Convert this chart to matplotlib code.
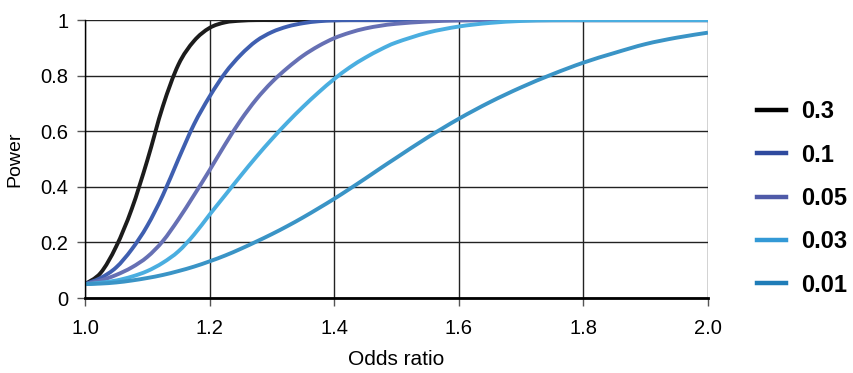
import numpy as np
import matplotlib
matplotlib.use("Agg")
import matplotlib.pyplot as plt
from matplotlib.path import Path
from matplotlib.patches import PathPatch
from matplotlib.lines import Line2D

plt.rcParams['font.family'] = ['Liberation Sans', 'DejaVu Sans']

odds = [1.0, 1.025, 1.05, 1.075, 1.1, 1.125, 1.15, 1.175, 1.2, 1.225, 1.25, 1.275,
        1.3, 1.325, 1.35, 1.375, 1.4, 1.425, 1.45, 1.475, 1.5, 1.55, 1.6, 1.65,
        1.7, 1.75, 1.8, 1.85, 1.9, 1.95, 2.0]

maf_03 = [0.05, 0.09, 0.185, 0.32, 0.495, 0.69, 0.84, 0.925, 0.972, 0.992, 0.998, 1.0,
          1.0, 1.0, 1.0, 1.0, 1.0, 1.0, 1.0, 1.0, 1.0, 1.0, 1.0, 1.0,
          1.0, 1.0, 1.0, 1.0, 1.0, 1.0, 1.0]
maf_01 = [0.05, 0.072, 0.11, 0.175, 0.26, 0.37, 0.5, 0.625, 0.725, 0.81, 0.875, 0.925,
          0.957, 0.977, 0.989, 0.996, 0.999, 1.0, 1.0, 1.0, 1.0, 1.0, 1.0, 1.0,
          1.0, 1.0, 1.0, 1.0, 1.0, 1.0, 1.0]
maf_005 = [0.05, 0.063, 0.083, 0.11, 0.148, 0.205, 0.283, 0.37, 0.46, 0.553, 0.64, 0.715,
           0.777, 0.828, 0.872, 0.907, 0.935, 0.955, 0.97, 0.98, 0.987, 0.995, 0.999, 1.0,
           1.0, 1.0, 1.0, 1.0, 1.0, 1.0, 1.0]
maf_003 = [0.05, 0.055, 0.063, 0.077, 0.097, 0.127, 0.168, 0.228, 0.3, 0.37, 0.44, 0.508,
           0.572, 0.632, 0.688, 0.74, 0.788, 0.83, 0.865, 0.895, 0.92, 0.955, 0.977, 0.99,
           0.997, 1.0, 1.0, 1.0, 1.0, 1.0, 1.0]
maf_0001 = [0.05, 0.052, 0.056, 0.063, 0.072, 0.083, 0.097, 0.113, 0.132, 0.153, 0.177, 0.203,
            0.23, 0.259, 0.29, 0.323, 0.357, 0.393, 0.43, 0.468, 0.505, 0.578, 0.645, 0.705,
            0.758, 0.805, 0.847, 0.882, 0.914, 0.937, 0.955]

labels = ['0.3', '0.1', '0.05', '0.03', '0.01']
series = [maf_03, maf_01, maf_005, maf_003, maf_0001]
colors = ['#1c1c1c', '#3f5fb0', '#6670b4', '#4aaee0', '#3a94c6']
legend_colors = ['#000000', '#2f4a9e', '#4f5aa8', '#3399d6', '#1f7db8']


def smooth_path(x, y):
    # excel style smoothed line: catmull-rom segments as cubic beziers
    pts = np.column_stack([x, y])
    n = len(pts)
    verts = [pts[0]]
    codes = [Path.MOVETO]
    for i in range(n - 1):
        p0 = pts[max(i - 1, 0)]
        p1 = pts[i]
        p2 = pts[i + 1]
        p3 = pts[min(i + 2, n - 1)]
        verts += [p1 + (p2 - p0) / 6, p2 - (p3 - p1) / 6, p2]
        codes += [Path.CURVE4] * 3
    return Path(verts, codes)


fig = plt.figure(figsize=(8.54, 3.73), dpi=100)
ax = fig.add_axes([0.0995, 0.201, 0.7295, 0.745])

handles = []
for vals, c, lc in zip(series, colors, legend_colors):
    ax.add_patch(PathPatch(smooth_path(odds, vals), fill=False, edgecolor=c,
                           lw=2.8, capstyle='butt'))
    handles.append(Line2D([0], [0], color=lc, lw=3.2))

ax.set_xlim(1.0, 2.0)
ax.set_ylim(0, 1)
ax.set_xticks(np.arange(1.0, 2.01, 0.2))
ax.set_xticklabels(['1.0', '1.2', '1.4', '1.6', '1.8', '2.0'])
ax.set_yticks([0, 0.2, 0.4, 0.6, 0.8, 1.0])
ax.set_yticklabels(['0', '0.2', '0.4', '0.6', '0.8', '1'])
ax.grid(True, color='#222222', lw=1.0)
ax.set_axisbelow(True)
for s in ['top', 'right']:
    ax.spines[s].set_visible(False)
ax.spines['left'].set_linewidth(1.0)
ax.spines['bottom'].set_linewidth(2.0)
ax.tick_params(labelsize=14.5, length=6, width=1, color='#555555')
ax.tick_params(axis='x', pad=9)
ax.tick_params(axis='y', pad=6)
ax.set_xlabel('Odds ratio', fontsize=15, labelpad=9)
ax.set_ylabel('Power', fontsize=14, labelpad=12)

fig.legend(handles, labels, loc='center left', bbox_to_anchor=(0.886, 0.468), frameon=False,
           prop={'size': 17, 'weight': 'bold'}, handlelength=1.25, handletextpad=0.62,
           labelspacing=0.86, borderpad=0, borderaxespad=0)

fig.savefig('out.png', dpi=100)
